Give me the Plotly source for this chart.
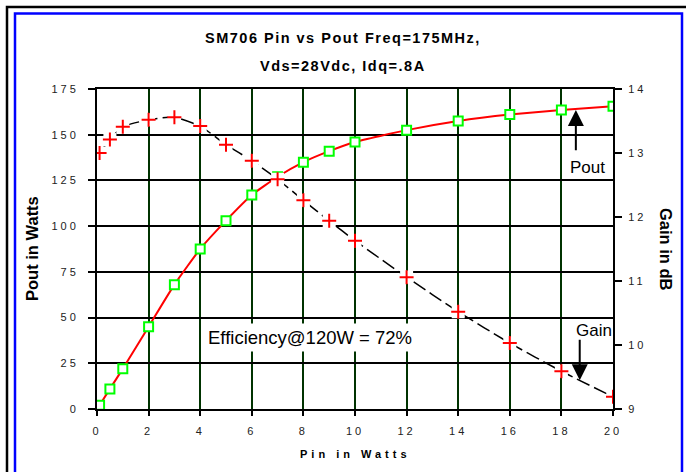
import plotly.graph_objects as go

# ---- data ----
pin_w = [0.1, 0.5, 1, 2, 3, 4, 5, 6, 7, 8, 9, 10, 12, 14, 16, 18, 20]
pout_w = [2, 11, 22, 45, 68, 87.5, 103, 117, 127, 135, 141, 146, 152.5, 157.5, 161, 163.5, 165.5]
gain_db = [13.0, 13.21, 13.41, 13.52, 13.56, 13.42, 13.13, 12.88, 12.59, 12.26, 11.94, 11.63,
           11.06, 10.52, 10.03, 9.59, 9.19]

x_ticks = [0, 2, 4, 6, 8, 10, 12, 14, 16, 18, 20]
pout_ticks = [0, 25, 50, 75, 100, 125, 150, 175]
gain_ticks = [9, 10, 11, 12, 13, 14]

title_lines = ["SM706 Pin vs Pout Freq=175MHz,", "Vds=28Vdc, Idq=.8A"]
x_title = "Pin in Watts"
y_title = "Pout in Watts"
y2_title = "Gain in dB"
note_text = "Efficiency@120W = 72%"

# ---- layout geometry ----
W, H = 686, 472
L, R, T, B = 97, 73, 89, 63
PW, PH = W - L - R, H - T - B


def px(v):
    return (v - L) / PW


def py(v):
    return (H - B - v) / PH


FONT = "Liberation Sans, Arial, Helvetica, sans-serif"


def spaced(s, sp):
    return f'<span style="letter-spacing:{sp}px">{s}</span>'


fig = go.Figure()
fig.add_trace(go.Scatter(
    x=pin_w, y=pout_w, mode="lines+markers", yaxis="y",
    line=dict(color="#ff0000", width=2, shape="spline", smoothing=0.5),
    marker=dict(symbol="square", size=9, color="white", line=dict(color="#00ff00", width=2)),
    hoverinfo="skip"))
fig.add_trace(go.Scatter(
    x=pin_w, y=gain_db, mode="lines", yaxis="y2",
    line=dict(color="black", width=1.5, dash="14px,5px", shape="spline", smoothing=0.5),
    hoverinfo="skip"))
fig.add_trace(go.Scatter(
    x=pin_w, y=gain_db, mode="markers", yaxis="y2",
    marker=dict(symbol="square", size=13, color="white", line=dict(width=0)),
    hoverinfo="skip"))
fig.add_trace(go.Scatter(
    x=pin_w, y=gain_db, mode="markers", yaxis="y2",
    marker=dict(symbol="cross-thin", size=10, color="#ff0000", line=dict(color="#ff0000", width=2)),
    hoverinfo="skip"))

tickfont = dict(family=FONT, size=11, color="#222222")

fig.update_layout(
    width=W, height=H, autosize=False,
    margin=dict(l=L, r=R, t=T, b=B, pad=0),
    paper_bgcolor="white", plot_bgcolor="white",
    showlegend=False, hovermode=False,
    font=dict(family=FONT, color="black"),
    xaxis=dict(range=[0, 20], tickmode="array", tickvals=x_ticks,
               ticktext=[spaced(str(v), 3) for v in x_ticks],
               ticks="outside", ticklen=5, tickwidth=2, tickcolor="black",
               showline=True, linecolor="black", linewidth=2, mirror=True,
               showgrid=True, gridcolor="#003300", gridwidth=2, zeroline=False,
               tickfont=tickfont, ticklabelstandoff=6, fixedrange=True),
    yaxis=dict(range=[0, 175], tickmode="array", tickvals=pout_ticks,
               ticktext=[spaced(str(v), 3) for v in pout_ticks],
               ticks="outside", ticklen=7, tickwidth=2, tickcolor="black",
               showline=True, linecolor="black", linewidth=2,
               showgrid=True, gridcolor="black", gridwidth=2, zeroline=False,
               tickfont=tickfont, ticklabelstandoff=7, fixedrange=True),
    yaxis2=dict(range=[9, 14], overlaying="y", side="right", anchor="x",
                tickmode="array", tickvals=gain_ticks,
                ticktext=[spaced(str(v), 3) for v in gain_ticks],
                ticks="outside", ticklen=7, tickwidth=2, tickcolor="black",
                showline=True, linecolor="black", linewidth=2,
                showgrid=False, zeroline=False, tickfont=tickfont,
                ticklabelstandoff=4, fixedrange=True),
    yaxis3=dict(range=[9, 14], overlaying="y", side="right", anchor="x",
                tickmode="array", tickvals=gain_ticks,
                ticks="inside", ticklen=8, tickwidth=2, tickcolor="black",
                showticklabels=False, showline=False, showgrid=False,
                zeroline=False, fixedrange=True),
)

ann = []
ann.append(dict(xref="paper", yref="paper", x=px(343), y=py(38), showarrow=False,
                text=spaced(title_lines[0], 1.5),
                font=dict(family=FONT, size=14.5, color="black", weight="bold"),
                xanchor="center", yanchor="middle"))
ann.append(dict(xref="paper", yref="paper", x=px(343), y=py(66), showarrow=False,
                text=spaced(title_lines[1], 1.5),
                font=dict(family=FONT, size=14.5, color="black", weight="bold"),
                xanchor="center", yanchor="middle"))
ann.append(dict(xref="paper", yref="paper", x=px(32), y=py(249), showarrow=False,
                text=y_title, textangle=-90,
                font=dict(family=FONT, size=16.5, color="black", weight="bold"),
                xanchor="center", yanchor="middle"))
ann.append(dict(xref="paper", yref="paper", x=px(666), y=py(249), showarrow=False,
                text=y2_title, textangle=90,
                font=dict(family=FONT, size=16.5, color="black", weight="bold"),
                xanchor="center", yanchor="middle"))
ann.append(dict(xref="paper", yref="paper", x=px(355), y=py(454), showarrow=False,
                text=spaced(x_title, 4),
                font=dict(family=FONT, size=11, color="black", weight="bold"),
                xanchor="center", yanchor="middle"))
ann.append(dict(xref="x", yref="y", x=8.24, y=39.2, showarrow=False,
                text=note_text, bgcolor="white", borderpad=3,
                font=dict(family=FONT, size=18.5, color="black"),
                xanchor="center", yanchor="middle"))
ann.append(dict(xref="x", yref="y", x=19.0, y=132.3, showarrow=False, text="Pout",
                font=dict(family=FONT, size=17, color="black"),
                xanchor="center", yanchor="middle"))
ann.append(dict(xref="x", yref="y", x=19.27, y=43, showarrow=False, text="Gain",
                font=dict(family=FONT, size=17, color="black"),
                xanchor="center", yanchor="middle"))
ann.append(dict(xref="x", yref="y", x=18.56, y=163.5, axref="x", ayref="y",
                ax=18.56, ay=140.7, text="", showarrow=True, arrowhead=2,
                arrowwidth=2, arrowsize=1.6, arrowcolor="black"))
ann.append(dict(xref="x", yref="y", x=18.71, y=15.7, axref="x", ayref="y",
                ax=18.71, ay=38.7, text="", showarrow=True, arrowhead=2,
                arrowwidth=2, arrowsize=1.6, arrowcolor="black"))
fig.update_layout(annotations=ann)

fig.update_layout(shapes=[
    dict(type="rect", xref="paper", yref="paper", x0=px(7), y0=py(7), x1=px(760), y1=py(560),
         line=dict(color="black", width=2.5), fillcolor="rgba(0,0,0,0)", layer="above"),
    dict(type="rect", xref="paper", yref="paper", x0=px(15), y0=py(13.5), x1=px(682), y1=py(560),
         line=dict(color="#0000ff", width=2.5), fillcolor="rgba(0,0,0,0)", layer="above"),
])

fig.write_html(
    "out.html",
    config={"displayModeBar": False, "staticPlot": True},
    post_script="document.body.style.margin='0';document.body.style.overflow='hidden';",
)
